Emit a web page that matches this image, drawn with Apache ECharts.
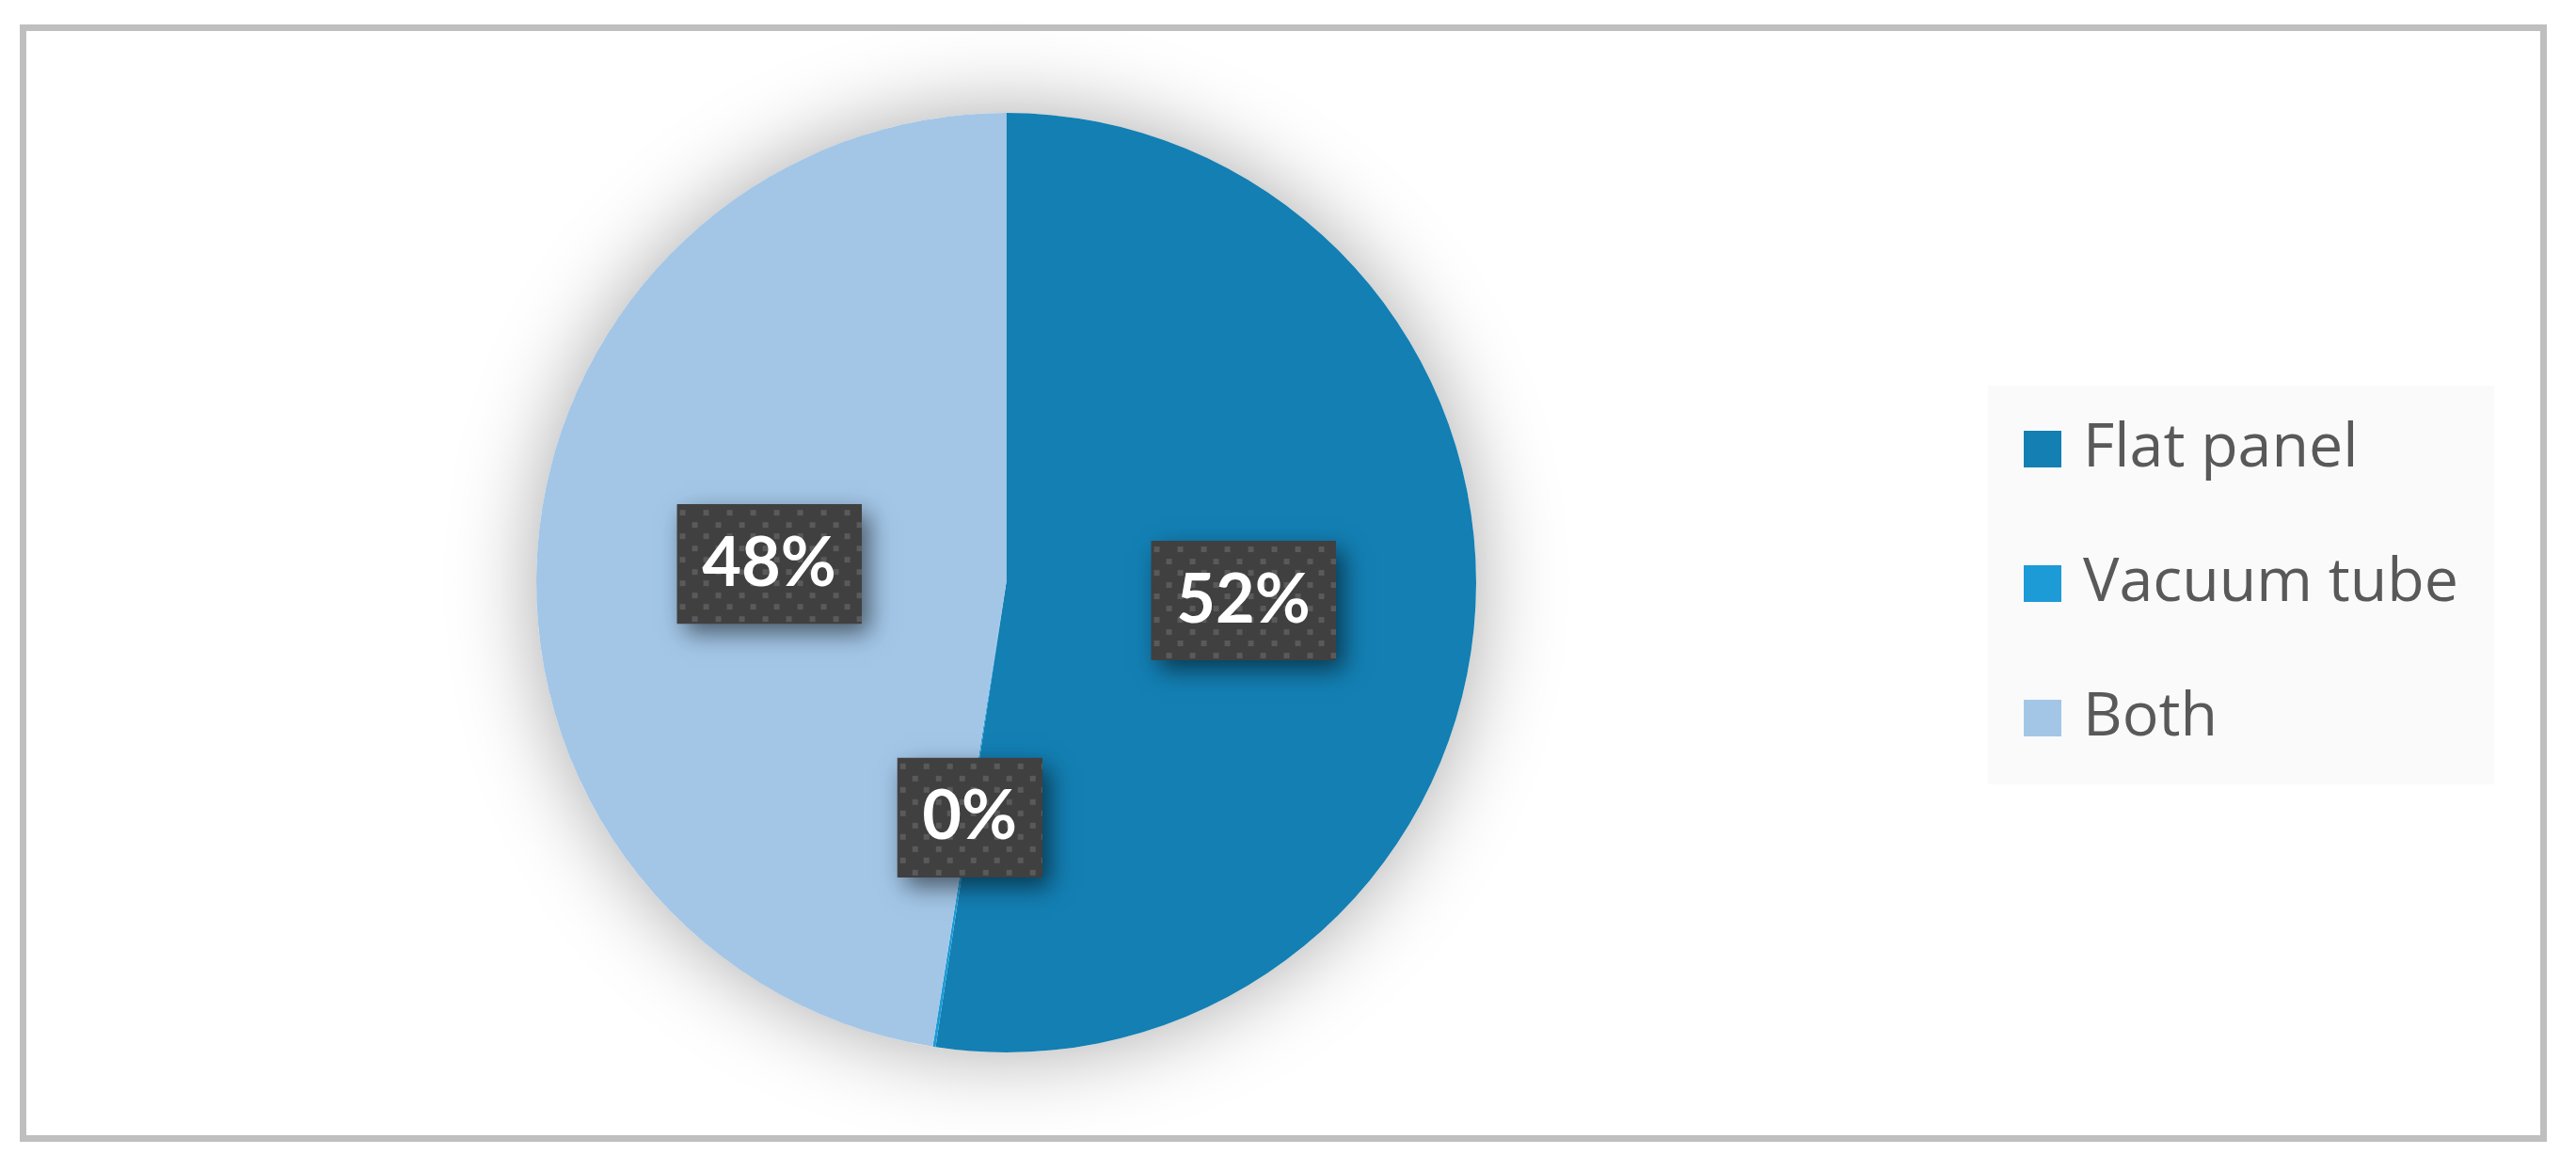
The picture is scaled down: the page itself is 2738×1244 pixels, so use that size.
<!DOCTYPE html>
<html>
<head>
<meta charset="utf-8">
<script src="https://cdn.jsdelivr.net/npm/echarts@6/dist/echarts.min.js"></script>
<style>
html,body{margin:0;padding:0;background:#fff;}
#chart{position:absolute;left:0;top:0;width:2738px;height:1244px;}
</style>
</head>
<body>
<div id="chart"></div>
<script>
// ---- data ----
const categories = ['Flat panel', 'Vacuum tube', 'Both'];
const shares = [52.4, 0.1, 47.5];
const colors = ['#137fb3', '#1d9bd7', '#a3c6e7'];

// ---- label background pattern (dark box with dotted texture) ----
function patternCanvas(w, h) {
  const c = document.createElement('canvas');
  c.width = w; c.height = h;
  const ctx = c.getContext('2d');
  ctx.fillStyle = '#404040';
  ctx.fillRect(0, 0, w, h);
  ctx.fillStyle = '#5a5a5a';
  for (let r = 0; 6 + r * 12.5 < h; r++) {
    const y = Math.round(6 + r * 12.5);
    const off = r % 2 === 0 ? 3 : 15.5;
    for (let x = off; x < w; x += 25) {
      ctx.fillRect(Math.round(x), y, 6, 6);
    }
  }
  return c;
}
const PADX = 27.5, BOXH = 127;
function labelWidthFor(text) { return text.length >= 3 ? 141 : 99; }

const chart = echarts.init(document.getElementById('chart'), null, {renderer: 'canvas'});

const total = shares.reduce((a, b) => a + b, 0);
const pieData = categories.map((name, i) => ({
  name: name,
  value: shares[i],
  itemStyle: {color: colors[i]}
}));

function tokenStyle(w, img) {
  return {
    width: w,
    fontFamily: 'Lato',
    fontWeight: 'bold',
    fontSize: 72,
    color: '#ffffff',
    lineHeight: BOXH,
    height: BOXH,
    align: 'center',
    overflow: 'none',
    padding: [0, PADX],
    backgroundColor: img ? {image: img} : '#404040'
  };
}

const option = {
  animation: false,
  backgroundColor: '#ffffff',
  legend: {
    orient: 'vertical',
    left: 2113,
    top: 410,
    data: categories,
    icon: 'rect',
    itemWidth: 40,
    itemHeight: 39,
    itemGap: 78,
    padding: [35, 38, 38, 38],
    backgroundColor: '#fafafa',
    selectedMode: false,
    textStyle: {
      fontFamily: 'Open Sans',
      fontSize: 64.5,
      color: '#595959',
      padding: [0, 0, 0, 18]
    }
  },
  graphic: [{
    type: 'rect',
    shape: {x: 24.5, y: 29.5, width: 2679, height: 1181},
    style: {fill: 'none', stroke: '#bfbfbf', lineWidth: 7},
    silent: true,
    z: 100
  }],
  series: [
    {
      // soft shadow disc behind the pie
      type: 'pie',
      name: 'shadow',
      center: [1069.5, 619.5],
      radius: [0, 499.5],
      silent: true,
      z: 1,
      label: {show: false},
      labelLine: {show: false},
      itemStyle: {
        color: '#ffffff',
        shadowBlur: 90,
        shadowColor: 'rgba(0,0,0,0.34)'
      },
      data: [{value: total, name: '__shadow'}]
    },
    {
      type: 'pie',
      name: 'Display',
      center: [1069.5, 619.5],
      radius: [0, 499.5],
      startAngle: 90,
      clockwise: true,
      percentPrecision: 0,
      z: 2,
      avoidLabelOverlap: false,
      labelLine: {show: false},
      emphasis: {disabled: true},
      label: {
        show: true,
        position: 'inside',
        formatter: '{p|{d}%}',
        backgroundColor: '#404040',
        padding: 0,
        shadowColor: 'rgba(0,0,0,0.55)',
        shadowBlur: 24,
        shadowOffsetX: 8,
        shadowOffsetY: 10,
        rich: {p: tokenStyle(141, null)}
      },
      data: pieData
    }
  ]
};

chart.setOption(option);
const model = chart.getModel().getSeriesByIndex(1);
const newData = pieData.map((d, i) => {
  const pct = model.getDataParams(i).percent;
  const txt = Math.round(pct) + '%';
  const w = labelWidthFor(txt);
  return Object.assign({}, d, {
    label: {
      rich: {p: tokenStyle(w, patternCanvas(Math.round(w + 2 * PADX), BOXH))}
    }
  });
});
chart.setOption({series: [{}, {data: newData}]});
</script>
</body>
</html>
